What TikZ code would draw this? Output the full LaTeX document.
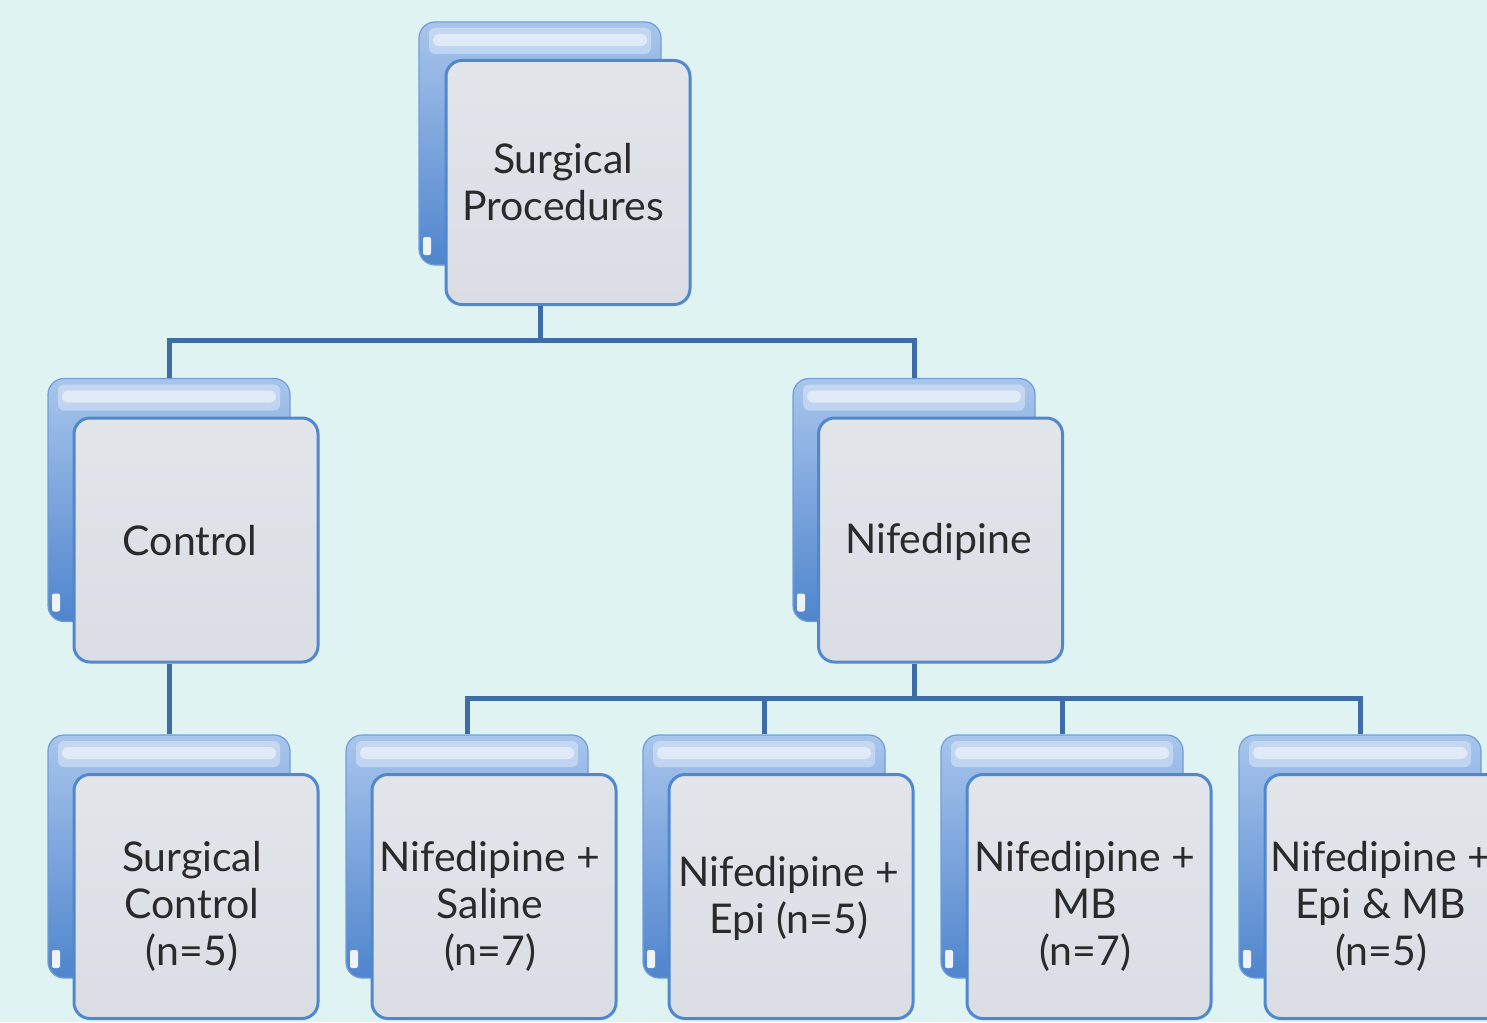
\documentclass[tikz,border=0pt]{standalone}
\usepackage{fontspec}
\setmainfont{Lato}
\usetikzlibrary{calc}
\definecolor{bgc}{HTML}{E0F3F3}
\definecolor{backtop}{HTML}{A8C5EC}
\definecolor{backbot}{HTML}{4F85CD}
\definecolor{frontfill}{HTML}{E2E5EA}
\definecolor{frontbot}{HTML}{DADEE4}
\definecolor{frontedge}{HTML}{5088CF}
\definecolor{connc}{HTML}{3D6CA6}
\definecolor{txtc}{HTML}{2A2A2A}
\tikzset{
  backbox/.style={rectangle, rounded corners=8pt, minimum width=121pt, minimum height=121.5pt,
    top color=backtop, bottom color=backbot, draw=backbot!80!white, line width=0.6pt,
    path picture={
      \fill[white,opacity=0.35,rounded corners=3pt]
        ([xshift=5pt,yshift=-3pt]path picture bounding box.north west) rectangle
        ([xshift=-5pt,yshift=-16pt]path picture bounding box.north east);
      \fill[white,opacity=0.5,rounded corners=3pt]
        ([xshift=7pt,yshift=-6pt]path picture bounding box.north west) rectangle
        ([xshift=-7pt,yshift=-12pt]path picture bounding box.north east);
      \fill[white,opacity=0.9,rounded corners=1pt]
        ([xshift=2pt,yshift=5pt]path picture bounding box.south west) rectangle
        ([xshift=6pt,yshift=14pt]path picture bounding box.south west);
    }},
  frontbox/.style={rectangle, rounded corners=8pt, minimum width=122pt, minimum height=122pt,
    top color=frontfill, bottom color=frontbot, draw=frontedge, line width=1.5pt},
  txt/.style={text=txtc, align=center, inner sep=0pt, font=\fontsize{20.5}{23.5}\selectfont},
  conn/.style={draw=connc, line width=2.5pt}
}
\begin{document}
\begin{tikzpicture}[x=0.5pt,y=-0.5pt]
\fill[bgc] (0,0) rectangle (1487,1022);
\useasboundingbox (0,0) rectangle (1487,1022);
\clip (0,0) rectangle (1487,1022);
% back boxes
\node[backbox] (tb) at (540,143.5) {};
\node[backbox] (cb) at (169,500) {};
\node[backbox] (nb) at (914,500) {};
\node[backbox] (b1b) at (169,856.5) {};
\node[backbox] (b2b) at (467,856.5) {};
\node[backbox] (b3b) at (764,856.5) {};
\node[backbox] (b4b) at (1062,856.5) {};
\node[backbox] (b5b) at (1360,856.5) {};
% junctions
\coordinate (j1) at (540,340);
\coordinate (j2) at (914,698);
% front boxes
\node[frontbox, label={[txt,xshift=-2.5pt]center:{Surgical\\Procedures}}] (t) at (568,182.5) {};
\node[frontbox, label={[txt,xshift=-3pt,yshift=-0.5pt]center:{Control}}] (c) at (196,540) {};
\node[frontbox, label={[txt,xshift=-1pt,yshift=-1pt]center:{Nifedipine}}] (n) at (940.5,540) {};
\node[frontbox, label={[txt,xshift=-2pt,yshift=-5pt]center:{Surgical\\Control\\(n=5)}}] (b1) at (196,896.5) {};
\node[frontbox, label={[txt,xshift=-2pt,yshift=-5pt]center:{Nifedipine +\\Saline\\(n=7)}}] (b2) at (494,896.5) {};
\node[frontbox, label={[txt,xshift=-1pt,yshift=-1pt]center:{Nifedipine +\\Epi (n=5)}}] (b3) at (791,896.5) {};
\node[frontbox, label={[txt,xshift=-2pt,yshift=-5pt]center:{Nifedipine +\\MB\\(n=7)}}] (b4) at (1089,896.5) {};
\node[frontbox, label={[txt,xshift=-3pt,yshift=-5pt]center:{Nifedipine +\\Epi \& MB\\(n=5)}}] (b5) at (1387,896.5) {};
% connectors
\draw[conn] (tb.center |- t.south) -- (j1);
\draw[conn] (j1) -| (cb.north);
\draw[conn] (j1) -| (nb.north);
\draw[conn] (cb.center |- c.south) -- (b1b.north);
\draw[conn] (nb.center |- n.south) -- (j2);
\draw[conn] (j2) -| (b2b.north);
\draw[conn] (j2) -| (b3b.north);
\draw[conn] (j2) -| (b4b.north);
\draw[conn] (j2) -| (b5b.north);
\end{tikzpicture}
\end{document}
